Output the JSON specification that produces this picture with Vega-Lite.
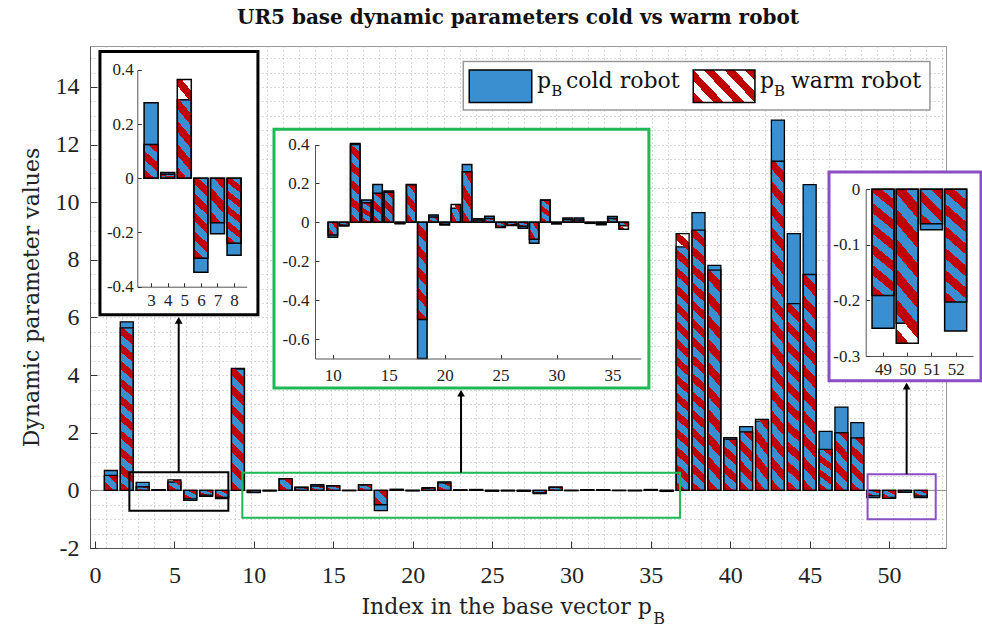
{
  "$schema": "https://vega.github.io/schema/vega-lite/v6.json",
  "width": 856,
  "height": 502,
  "autosize": {"type": "none"},
  "padding": {"left": 90, "top": 46, "right": 36, "bottom": 81},
  "background": "white",
  "title": {"text": "UR5 base dynamic parameters cold vs warm robot", "font": "DejaVu Serif", "fontSize": 20, "fontWeight": "bold", "color": "#111", "offset": 18},
  "config": {
    "view": {"stroke": "#999", "strokeWidth": 1},
    "axis": {"labelFont": "Liberation Serif", "labelColor": "#222", "tickColor": "#333", "domainColor": "#555", "titleFont": "DejaVu Serif", "titleFontWeight": "normal", "titleColor": "#222", "labelFlush": false, "labelExpr": "'' + datum.value", "labelOverlap": false}
  },
  "data": {"values": [
    {"idx":1,"cold":0.69,"warm":0.52},
    {"idx":2,"cold":5.85,"warm":5.64},
    {"idx":3,"cold":0.279,"warm":0.125},
    {"idx":4,"cold":0.021,"warm":0.015},
    {"idx":5,"cold":0.29,"warm":0.365},
    {"idx":6,"cold":-0.347,"warm":-0.295},
    {"idx":7,"cold":-0.205,"warm":-0.164},
    {"idx":8,"cold":-0.284,"warm":-0.24},
    {"idx":9,"cold":4.21,"warm":4.23},
    {"idx":10,"cold":-0.077,"warm":-0.065},
    {"idx":11,"cold":-0.019,"warm":-0.015},
    {"idx":12,"cold":0.4,"warm":0.405},
    {"idx":13,"cold":0.115,"warm":0.1},
    {"idx":14,"cold":0.195,"warm":0.149},
    {"idx":15,"cold":0.161,"warm":0.154},
    {"idx":16,"cold":-0.008,"warm":-0.005},
    {"idx":17,"cold":0.195,"warm":0.193},
    {"idx":18,"cold":-0.7,"warm":-0.5},
    {"idx":19,"cold":0.038,"warm":0.027},
    {"idx":20,"cold":-0.014,"warm":-0.01},
    {"idx":21,"cold":0.072,"warm":0.092},
    {"idx":22,"cold":0.297,"warm":0.26},
    {"idx":23,"cold":0.018,"warm":0.012},
    {"idx":24,"cold":0.031,"warm":0.02},
    {"idx":25,"cold":-0.022,"warm":-0.026},
    {"idx":26,"cold":-0.012,"warm":-0.016},
    {"idx":27,"cold":-0.03,"warm":-0.02},
    {"idx":28,"cold":-0.108,"warm":-0.087},
    {"idx":29,"cold":0.115,"warm":0.113},
    {"idx":30,"cold":-0.008,"warm":-0.007},
    {"idx":31,"cold":0.022,"warm":0.015},
    {"idx":32,"cold":0.022,"warm":0.012},
    {"idx":33,"cold":-0.005,"warm":-0.005},
    {"idx":34,"cold":-0.012,"warm":-0.008},
    {"idx":35,"cold":0.03,"warm":0.02},
    {"idx":36,"cold":-0.018,"warm":-0.036},
    {"idx":37,"cold":8.45,"warm":8.91},
    {"idx":38,"cold":9.64,"warm":9.03},
    {"idx":39,"cold":7.81,"warm":7.64},
    {"idx":40,"cold":1.83,"warm":1.78},
    {"idx":41,"cold":2.21,"warm":2.03},
    {"idx":42,"cold":2.4,"warm":2.46},
    {"idx":43,"cold":12.85,"warm":11.42},
    {"idx":44,"cold":8.91,"warm":6.48},
    {"idx":45,"cold":10.61,"warm":7.49},
    {"idx":46,"cold":2.05,"warm":1.42},
    {"idx":47,"cold":2.89,"warm":2.0},
    {"idx":48,"cold":2.35,"warm":1.82},
    {"idx":49,"cold":-0.25,"warm":-0.191},
    {"idx":50,"cold":-0.241,"warm":-0.277},
    {"idx":51,"cold":-0.073,"warm":-0.062},
    {"idx":52,"cold":-0.255,"warm":-0.203}
  ]},
  "transform": [{"fold": ["cold", "warm"], "as": ["series", "value"]}],
  "layer": [
    {
      "mark": {"type": "point", "opacity": 0},
      "encoding": {
        "x": {"field": "idx", "type": "quantitative", "scale": {"domain": [0, 53.27], "nice": false, "zero": false}, "axis": {"orient": "bottom", "grid": true, "gridDash": [1, 3], "gridColor": "#b5b5b5", "ticks": false, "labels": false, "domain": false, "title": null, "tickCount": 53}},
        "y": {"field": "value", "type": "quantitative", "scale": {"domain": [-2, 15.42], "nice": false, "zero": false}, "axis": {"orient": "left", "grid": true, "gridDash": [1, 3], "gridColor": "#b5b5b5", "ticks": false, "labels": false, "domain": false, "title": null, "tickCount": 35}}
      }
    },
    {"data": {"values": [{}]}, "mark": {"type": "rule", "color": "#8c8c8c", "strokeWidth": 1}, "encoding": {"x": {"datum": 0, "type": "quantitative", "scale": {"domain": [0, 53.27], "nice": false, "zero": false}, "axis": null}, "x2": {"datum": 53.27}, "y": {"datum": 0, "type": "quantitative", "scale": {"domain": [-2, 15.42], "nice": false, "zero": false}, "axis": null}}},
    {
      "encoding": {
        "x": {"field": "idx", "type": "quantitative", "scale": {"domain": [0, 53.27], "nice": false, "zero": false}, "axis": {"orient": "bottom", "values": [0,5,10,15,20,25,30,35,40,45,50], "title": null, "grid": false, "tickSize": -7, "labelPadding": 22, "labelFontSize": 24}},
        "y": {"field": "value", "type": "quantitative", "stack": null, "scale": {"domain": [-2, 15.42], "nice": false, "zero": false}, "axis": {"orient": "left", "values": [-2,0,2,4,6,8,10,12,14], "title": "Dynamic parameter values", "titleFontSize": 22, "titlePadding": 12, "grid": false, "tickSize": -7, "labelPadding": 18, "labelFontSize": 24}}
      },
      "layer": [
        {"transform": [{"filter": "datum.series == 'cold'"}], "mark": {"type": "bar", "orient": "vertical", "size": 13, "fill": "#3a8fd0", "stroke": "#000", "strokeWidth": 1.3}},
        {"transform": [{"filter": "datum.series == 'warm' && abs(datum.value) >= 8.5"}], "mark": {"type": "bar", "orient": "vertical", "size": 13, "stroke": "#000", "strokeWidth": 1.3, "fill": {"gradient": "linear", "x1": 0, "y1": 1, "x2": 0.048, "y2": -0.044, "stops": [
          {"offset":0,"color":"#c00000"},{"offset":0.0333,"color":"#c00000"},{"offset":0.0333,"color":"rgba(255,255,255,0)"},{"offset":0.0667,"color":"rgba(255,255,255,0)"},{"offset":0.0667,"color":"#c00000"},{"offset":0.1,"color":"#c00000"},{"offset":0.1,"color":"rgba(255,255,255,0)"},{"offset":0.1333,"color":"rgba(255,255,255,0)"},{"offset":0.1333,"color":"#c00000"},{"offset":0.1667,"color":"#c00000"},{"offset":0.1667,"color":"rgba(255,255,255,0)"},{"offset":0.2,"color":"rgba(255,255,255,0)"},{"offset":0.2,"color":"#c00000"},{"offset":0.2333,"color":"#c00000"},{"offset":0.2333,"color":"rgba(255,255,255,0)"},{"offset":0.2667,"color":"rgba(255,255,255,0)"},{"offset":0.2667,"color":"#c00000"},{"offset":0.3,"color":"#c00000"},{"offset":0.3,"color":"rgba(255,255,255,0)"},{"offset":0.3333,"color":"rgba(255,255,255,0)"},{"offset":0.3333,"color":"#c00000"},{"offset":0.3667,"color":"#c00000"},{"offset":0.3667,"color":"rgba(255,255,255,0)"},{"offset":0.4,"color":"rgba(255,255,255,0)"},{"offset":0.4,"color":"#c00000"},{"offset":0.4333,"color":"#c00000"},{"offset":0.4333,"color":"rgba(255,255,255,0)"},{"offset":0.4667,"color":"rgba(255,255,255,0)"},{"offset":0.4667,"color":"#c00000"},{"offset":0.5,"color":"#c00000"},{"offset":0.5,"color":"rgba(255,255,255,0)"},{"offset":0.5333,"color":"rgba(255,255,255,0)"},{"offset":0.5333,"color":"#c00000"},{"offset":0.5667,"color":"#c00000"},{"offset":0.5667,"color":"rgba(255,255,255,0)"},{"offset":0.6,"color":"rgba(255,255,255,0)"},{"offset":0.6,"color":"#c00000"},{"offset":0.6333,"color":"#c00000"},{"offset":0.6333,"color":"rgba(255,255,255,0)"},{"offset":0.6667,"color":"rgba(255,255,255,0)"},{"offset":0.6667,"color":"#c00000"},{"offset":0.7,"color":"#c00000"},{"offset":0.7,"color":"rgba(255,255,255,0)"},{"offset":0.7333,"color":"rgba(255,255,255,0)"},{"offset":0.7333,"color":"#c00000"},{"offset":0.7667,"color":"#c00000"},{"offset":0.7667,"color":"rgba(255,255,255,0)"},{"offset":0.8,"color":"rgba(255,255,255,0)"},{"offset":0.8,"color":"#c00000"},{"offset":0.8333,"color":"#c00000"},{"offset":0.8333,"color":"rgba(255,255,255,0)"},{"offset":0.8667,"color":"rgba(255,255,255,0)"},{"offset":0.8667,"color":"#c00000"},{"offset":0.9,"color":"#c00000"},{"offset":0.9,"color":"rgba(255,255,255,0)"},{"offset":0.9333,"color":"rgba(255,255,255,0)"},{"offset":0.9333,"color":"#c00000"},{"offset":0.9667,"color":"#c00000"},{"offset":0.9667,"color":"rgba(255,255,255,0)"},{"offset":1,"color":"rgba(255,255,255,0)"}]}}},
        {"transform": [{"filter": "datum.series == 'warm' && abs(datum.value) >= 5 && abs(datum.value) < 8.5"}], "mark": {"type": "bar", "orient": "vertical", "size": 13, "stroke": "#000", "strokeWidth": 1.3, "fill": {"gradient": "linear", "x1": 0, "y1": 1, "x2": 0.07, "y2": -0.061, "stops": [
          {"offset":0,"color":"#c00000"},{"offset":0.05,"color":"#c00000"},{"offset":0.05,"color":"rgba(255,255,255,0)"},{"offset":0.1,"color":"rgba(255,255,255,0)"},{"offset":0.1,"color":"#c00000"},{"offset":0.15,"color":"#c00000"},{"offset":0.15,"color":"rgba(255,255,255,0)"},{"offset":0.2,"color":"rgba(255,255,255,0)"},{"offset":0.2,"color":"#c00000"},{"offset":0.25,"color":"#c00000"},{"offset":0.25,"color":"rgba(255,255,255,0)"},{"offset":0.3,"color":"rgba(255,255,255,0)"},{"offset":0.3,"color":"#c00000"},{"offset":0.35,"color":"#c00000"},{"offset":0.35,"color":"rgba(255,255,255,0)"},{"offset":0.4,"color":"rgba(255,255,255,0)"},{"offset":0.4,"color":"#c00000"},{"offset":0.45,"color":"#c00000"},{"offset":0.45,"color":"rgba(255,255,255,0)"},{"offset":0.5,"color":"rgba(255,255,255,0)"},{"offset":0.5,"color":"#c00000"},{"offset":0.55,"color":"#c00000"},{"offset":0.55,"color":"rgba(255,255,255,0)"},{"offset":0.6,"color":"rgba(255,255,255,0)"},{"offset":0.6,"color":"#c00000"},{"offset":0.65,"color":"#c00000"},{"offset":0.65,"color":"rgba(255,255,255,0)"},{"offset":0.7,"color":"rgba(255,255,255,0)"},{"offset":0.7,"color":"#c00000"},{"offset":0.75,"color":"#c00000"},{"offset":0.75,"color":"rgba(255,255,255,0)"},{"offset":0.8,"color":"rgba(255,255,255,0)"},{"offset":0.8,"color":"#c00000"},{"offset":0.85,"color":"#c00000"},{"offset":0.85,"color":"rgba(255,255,255,0)"},{"offset":0.9,"color":"rgba(255,255,255,0)"},{"offset":0.9,"color":"#c00000"},{"offset":0.95,"color":"#c00000"},{"offset":0.95,"color":"rgba(255,255,255,0)"},{"offset":1,"color":"rgba(255,255,255,0)"}]}}},
        {"transform": [{"filter": "datum.series == 'warm' && abs(datum.value) >= 3 && abs(datum.value) < 5"}], "mark": {"type": "bar", "orient": "vertical", "size": 13, "stroke": "#000", "strokeWidth": 1.3, "fill": {"gradient": "linear", "x1": 0, "y1": 1, "x2": 0.117, "y2": -0.095, "stops": [
          {"offset":0,"color":"#c00000"},{"offset":0.0714,"color":"#c00000"},{"offset":0.0714,"color":"rgba(255,255,255,0)"},{"offset":0.1429,"color":"rgba(255,255,255,0)"},{"offset":0.1429,"color":"#c00000"},{"offset":0.2143,"color":"#c00000"},{"offset":0.2143,"color":"rgba(255,255,255,0)"},{"offset":0.2857,"color":"rgba(255,255,255,0)"},{"offset":0.2857,"color":"#c00000"},{"offset":0.3571,"color":"#c00000"},{"offset":0.3571,"color":"rgba(255,255,255,0)"},{"offset":0.4286,"color":"rgba(255,255,255,0)"},{"offset":0.4286,"color":"#c00000"},{"offset":0.5,"color":"#c00000"},{"offset":0.5,"color":"rgba(255,255,255,0)"},{"offset":0.5714,"color":"rgba(255,255,255,0)"},{"offset":0.5714,"color":"#c00000"},{"offset":0.6429,"color":"#c00000"},{"offset":0.6429,"color":"rgba(255,255,255,0)"},{"offset":0.7143,"color":"rgba(255,255,255,0)"},{"offset":0.7143,"color":"#c00000"},{"offset":0.7857,"color":"#c00000"},{"offset":0.7857,"color":"rgba(255,255,255,0)"},{"offset":0.8571,"color":"rgba(255,255,255,0)"},{"offset":0.8571,"color":"#c00000"},{"offset":0.9286,"color":"#c00000"},{"offset":0.9286,"color":"rgba(255,255,255,0)"},{"offset":1,"color":"rgba(255,255,255,0)"}]}}},
        {"transform": [{"filter": "datum.series == 'warm' && abs(datum.value) >= 1 && abs(datum.value) < 3"}], "mark": {"type": "bar", "orient": "vertical", "size": 13, "stroke": "#000", "strokeWidth": 1.3, "fill": {"gradient": "linear", "x1": 0, "y1": 1, "x2": 0.276, "y2": -0.171, "stops": [
          {"offset":0,"color":"#c00000"},{"offset":0.1429,"color":"#c00000"},{"offset":0.1429,"color":"rgba(255,255,255,0)"},{"offset":0.2857,"color":"rgba(255,255,255,0)"},{"offset":0.2857,"color":"#c00000"},{"offset":0.4286,"color":"#c00000"},{"offset":0.4286,"color":"rgba(255,255,255,0)"},{"offset":0.5714,"color":"rgba(255,255,255,0)"},{"offset":0.5714,"color":"#c00000"},{"offset":0.7143,"color":"#c00000"},{"offset":0.7143,"color":"rgba(255,255,255,0)"},{"offset":0.8571,"color":"rgba(255,255,255,0)"},{"offset":0.8571,"color":"#c00000"},{"offset":1,"color":"#c00000"}]}}},
        {"transform": [{"filter": "datum.series == 'warm' && abs(datum.value) < 1"}], "mark": {"type": "bar", "orient": "vertical", "size": 13, "stroke": "#000", "strokeWidth": 1.3, "fill": {"gradient": "linear", "x1": 0, "y1": 1, "x2": 0.926, "y2": -0.064, "stops": [
          {"offset":0,"color":"#c00000"},{"offset":0.3333,"color":"#c00000"},{"offset":0.3333,"color":"rgba(255,255,255,0)"},{"offset":0.6667,"color":"rgba(255,255,255,0)"},{"offset":0.6667,"color":"#c00000"},{"offset":1,"color":"#c00000"}]}}}
      ]
    },
    {"data": {"values": [{}]}, "mark": {"type": "rect", "fill": "white", "stroke": "#000", "strokeWidth": 3}, "encoding": {"x": {"datum": 0.62, "type": "quantitative", "scale": {"domain": [0, 53.27], "nice": false, "zero": false}, "axis": null}, "x2": {"datum": 10.45}, "y": {"datum": 15.23, "type": "quantitative", "scale": {"domain": [-2, 15.42], "nice": false, "zero": false}, "axis": null}, "y2": {"datum": 6.09}}},
    {"data": {"values": [{}]}, "mark": {"type": "rect", "fill": "white", "stroke": "#1db954", "strokeWidth": 3}, "encoding": {"x": {"datum": 11.45, "type": "quantitative", "scale": {"domain": [0, 53.27], "nice": false, "zero": false}, "axis": null}, "x2": {"datum": 34.78}, "y": {"datum": 12.53, "type": "quantitative", "scale": {"domain": [-2, 15.42], "nice": false, "zero": false}, "axis": null}, "y2": {"datum": 3.55}}},
    {"data": {"values": [{}]}, "mark": {"type": "rect", "fill": "white", "stroke": "#8a4fc4", "strokeWidth": 3}, "encoding": {"x": {"datum": 45.99, "type": "quantitative", "scale": {"domain": [0, 53.27], "nice": false, "zero": false}, "axis": null}, "x2": {"datum": 55.45}, "y": {"datum": 11.05, "type": "quantitative", "scale": {"domain": [-2, 15.42], "nice": false, "zero": false}, "axis": null}, "y2": {"datum": 3.8}}},
    {"data": {"values": [{}]}, "mark": {"type": "rect", "fill": "transparent", "stroke": "#000", "strokeWidth": 2}, "encoding": {"x": {"datum": 2.45, "type": "quantitative", "scale": {"domain": [0, 53.27], "nice": false, "zero": false}, "axis": null}, "x2": {"datum": 8.61}, "y": {"datum": 0.628, "type": "quantitative", "scale": {"domain": [-2, 15.42], "nice": false, "zero": false}, "axis": null}, "y2": {"datum": -0.705}}},
    {"data": {"values": [{}]}, "mark": {"type": "rect", "fill": "transparent", "stroke": "#1db954", "strokeWidth": 2}, "encoding": {"x": {"datum": 9.48, "type": "quantitative", "scale": {"domain": [0, 53.27], "nice": false, "zero": false}, "axis": null}, "x2": {"datum": 36.72}, "y": {"datum": 0.614, "type": "quantitative", "scale": {"domain": [-2, 15.42], "nice": false, "zero": false}, "axis": null}, "y2": {"datum": -0.948}}},
    {"data": {"values": [{}]}, "mark": {"type": "rect", "fill": "transparent", "stroke": "#8a4fc4", "strokeWidth": 2}, "encoding": {"x": {"datum": 48.39, "type": "quantitative", "scale": {"domain": [0, 53.27], "nice": false, "zero": false}, "axis": null}, "x2": {"datum": 52.63}, "y": {"datum": 0.558, "type": "quantitative", "scale": {"domain": [-2, 15.42], "nice": false, "zero": false}, "axis": null}, "y2": {"datum": -1.004}}},
    {"data": {"values": [{}]}, "mark": {"type": "rule", "color": "#000", "strokeWidth": 2}, "encoding": {"x": {"datum": 5.52, "type": "quantitative", "scale": {"domain": [0, 53.27], "nice": false, "zero": false}, "axis": null}, "y": {"datum": 0.628, "type": "quantitative", "scale": {"domain": [-2, 15.42], "nice": false, "zero": false}, "axis": null}, "y2": {"datum": 5.95}}},
    {"data": {"values": [{}]}, "mark": {"type": "rule", "color": "#000", "strokeWidth": 2}, "encoding": {"x": {"datum": 23.09, "type": "quantitative", "scale": {"domain": [0, 53.27], "nice": false, "zero": false}, "axis": null}, "y": {"datum": 0.614, "type": "quantitative", "scale": {"domain": [-2, 15.42], "nice": false, "zero": false}, "axis": null}, "y2": {"datum": 3.42}}},
    {"data": {"values": [{}]}, "mark": {"type": "rule", "color": "#000", "strokeWidth": 2}, "encoding": {"x": {"datum": 50.82, "type": "quantitative", "scale": {"domain": [0, 53.27], "nice": false, "zero": false}, "axis": null}, "y": {"datum": 0.558, "type": "quantitative", "scale": {"domain": [-2, 15.42], "nice": false, "zero": false}, "axis": null}, "y2": {"datum": 3.67}}},
    {"data": {"values": [{}]}, "mark": {"type": "point", "shape": "triangle-up", "filled": true, "color": "#000", "size": 60, "opacity": 1}, "encoding": {"x": {"datum": 5.52, "type": "quantitative", "scale": {"domain": [0, 53.27], "nice": false, "zero": false}, "axis": null}, "y": {"datum": 5.9, "type": "quantitative", "scale": {"domain": [-2, 15.42], "nice": false, "zero": false}, "axis": null}}},
    {"data": {"values": [{}]}, "mark": {"type": "point", "shape": "triangle-up", "filled": true, "color": "#000", "size": 60, "opacity": 1}, "encoding": {"x": {"datum": 23.09, "type": "quantitative", "scale": {"domain": [0, 53.27], "nice": false, "zero": false}, "axis": null}, "y": {"datum": 3.37, "type": "quantitative", "scale": {"domain": [-2, 15.42], "nice": false, "zero": false}, "axis": null}}},
    {"data": {"values": [{}]}, "mark": {"type": "point", "shape": "triangle-up", "filled": true, "color": "#000", "size": 60, "opacity": 1}, "encoding": {"x": {"datum": 50.82, "type": "quantitative", "scale": {"domain": [0, 53.27], "nice": false, "zero": false}, "axis": null}, "y": {"datum": 3.62, "type": "quantitative", "scale": {"domain": [-2, 15.42], "nice": false, "zero": false}, "axis": null}}},
    {"data": {"values": [{}]}, "mark": {"type": "rect", "fill": "white", "stroke": "#999", "strokeWidth": 1.5}, "encoding": {"x": {"datum": 23.23, "type": "quantitative", "scale": {"domain": [0, 53.27], "nice": false, "zero": false}, "axis": null}, "x2": {"datum": 52.27}, "y": {"datum": 14.88, "type": "quantitative", "scale": {"domain": [-2, 15.42], "nice": false, "zero": false}, "axis": null}, "y2": {"datum": 13.2}}},
    {"data": {"values": [{}]}, "mark": {"type": "rect", "fill": "#3a8fd0", "stroke": "#000", "strokeWidth": 1.5}, "encoding": {"x": {"datum": 23.6, "type": "quantitative", "scale": {"domain": [0, 53.27], "nice": false, "zero": false}, "axis": null}, "x2": {"datum": 27.49}, "y": {"datum": 14.59, "type": "quantitative", "scale": {"domain": [-2, 15.42], "nice": false, "zero": false}, "axis": null}, "y2": {"datum": 13.46}}},
    {"data": {"values": [{}]}, "mark": {"type": "rect", "stroke": "#000", "strokeWidth": 1.5, "fill": {"gradient": "linear", "x1": 0, "y1": 1, "x2": 1.2, "y2": 0.4, "stops": [
      {"offset":0,"color":"#c00000"},{"offset":0.1111,"color":"#c00000"},{"offset":0.1111,"color":"rgba(255,255,255,0)"},{"offset":0.2222,"color":"rgba(255,255,255,0)"},{"offset":0.2222,"color":"#c00000"},{"offset":0.3333,"color":"#c00000"},{"offset":0.3333,"color":"rgba(255,255,255,0)"},{"offset":0.4444,"color":"rgba(255,255,255,0)"},{"offset":0.4444,"color":"#c00000"},{"offset":0.5556,"color":"#c00000"},{"offset":0.5556,"color":"rgba(255,255,255,0)"},{"offset":0.6667,"color":"rgba(255,255,255,0)"},{"offset":0.6667,"color":"#c00000"},{"offset":0.7778,"color":"#c00000"},{"offset":0.7778,"color":"rgba(255,255,255,0)"},{"offset":0.8889,"color":"rgba(255,255,255,0)"},{"offset":0.8889,"color":"#c00000"},{"offset":1,"color":"#c00000"}]}}, "encoding": {"x": {"datum": 37.54, "type": "quantitative", "scale": {"domain": [0, 53.27], "nice": false, "zero": false}, "axis": null}, "x2": {"datum": 41.38}, "y": {"datum": 14.59, "type": "quantitative", "scale": {"domain": [-2, 15.42], "nice": false, "zero": false}, "axis": null}, "y2": {"datum": 13.46}}},
    {"data": {"values": [{}]}, "mark": {"type": "text", "text": "p", "font": "DejaVu Serif", "fontSize": 22, "align": "left", "baseline": "alphabetic", "color": "#111"}, "encoding": {"x": {"datum": 27.82, "type": "quantitative", "scale": {"domain": [0, 53.27], "nice": false, "zero": false}, "axis": null}, "y": {"datum": 13.956, "type": "quantitative", "scale": {"domain": [-2, 15.42], "nice": false, "zero": false}, "axis": null}}},
    {"data": {"values": [{}]}, "mark": {"type": "text", "text": "B", "font": "DejaVu Serif", "fontSize": 15, "align": "left", "baseline": "alphabetic", "color": "#111"}, "encoding": {"x": {"datum": 28.7, "type": "quantitative", "scale": {"domain": [0, 53.27], "nice": false, "zero": false}, "axis": null}, "y": {"datum": 13.69, "type": "quantitative", "scale": {"domain": [-2, 15.42], "nice": false, "zero": false}, "axis": null}}},
    {"data": {"values": [{}]}, "mark": {"type": "text", "text": "cold robot", "font": "DejaVu Serif", "fontSize": 22, "align": "left", "baseline": "alphabetic", "color": "#111"}, "encoding": {"x": {"datum": 29.62, "type": "quantitative", "scale": {"domain": [0, 53.27], "nice": false, "zero": false}, "axis": null}, "y": {"datum": 13.956, "type": "quantitative", "scale": {"domain": [-2, 15.42], "nice": false, "zero": false}, "axis": null}}},
    {"data": {"values": [{}]}, "mark": {"type": "text", "text": "p", "font": "DejaVu Serif", "fontSize": 22, "align": "left", "baseline": "alphabetic", "color": "#111"}, "encoding": {"x": {"datum": 41.69, "type": "quantitative", "scale": {"domain": [0, 53.27], "nice": false, "zero": false}, "axis": null}, "y": {"datum": 13.956, "type": "quantitative", "scale": {"domain": [-2, 15.42], "nice": false, "zero": false}, "axis": null}}},
    {"data": {"values": [{}]}, "mark": {"type": "text", "text": "B", "font": "DejaVu Serif", "fontSize": 15, "align": "left", "baseline": "alphabetic", "color": "#111"}, "encoding": {"x": {"datum": 42.57, "type": "quantitative", "scale": {"domain": [0, 53.27], "nice": false, "zero": false}, "axis": null}, "y": {"datum": 13.69, "type": "quantitative", "scale": {"domain": [-2, 15.42], "nice": false, "zero": false}, "axis": null}}},
    {"data": {"values": [{}]}, "mark": {"type": "text", "text": "warm robot", "font": "DejaVu Serif", "fontSize": 22, "align": "left", "baseline": "alphabetic", "color": "#111"}, "encoding": {"x": {"datum": 43.62, "type": "quantitative", "scale": {"domain": [0, 53.27], "nice": false, "zero": false}, "axis": null}, "y": {"datum": 13.956, "type": "quantitative", "scale": {"domain": [-2, 15.42], "nice": false, "zero": false}, "axis": null}}},
    {"data": {"values": [{}]}, "mark": {"type": "text", "text": "Index in the base vector p", "font": "DejaVu Serif", "fontSize": 22, "align": "right", "baseline": "alphabetic", "color": "#222"}, "encoding": {"x": {"datum": 34.97, "type": "quantitative", "scale": {"domain": [0, 53.27], "nice": false, "zero": false}, "axis": null}, "y": {"datum": -4.29, "type": "quantitative", "scale": {"domain": [-2, 15.42], "nice": false, "zero": false}, "axis": null}}},
    {"data": {"values": [{}]}, "mark": {"type": "text", "text": "B", "font": "DejaVu Serif", "fontSize": 16, "align": "left", "baseline": "alphabetic", "color": "#222"}, "encoding": {"x": {"datum": 35.05, "type": "quantitative", "scale": {"domain": [0, 53.27], "nice": false, "zero": false}, "axis": null}, "y": {"datum": -4.62, "type": "quantitative", "scale": {"domain": [-2, 15.42], "nice": false, "zero": false}, "axis": null}}},
    {
      "transform": [{"filter": "datum.idx >= 3 && datum.idx <= 8"}],
      "encoding": {
        "x": {"field": "idx", "type": "quantitative", "scale": {"domain": [2.47, 8.46], "range": [47.3, 156.7], "nice": false, "zero": false}, "axis": {"orient": "bottom", "offset": -261.3, "values": [3,4,5,6,7,8], "title": null, "grid": false, "zindex": 1, "tickSize": -4, "labelPadding": 10, "labelFontSize": 17}},
        "y": {"field": "value", "type": "quantitative", "stack": null, "scale": {"domain": [-0.4, 0.4], "range": [240.7, 23.9], "nice": false, "zero": false}, "axis": {"orient": "left", "offset": -47.3, "values": [-0.4,-0.2,0,0.2,0.4], "title": null, "grid": false, "zindex": 1, "tickSize": -4, "labelPadding": 8, "labelFontSize": 17}}
      },
      "layer": [
        {"data": {"values": [{}]}, "mark": {"type": "rect", "fill": "transparent", "stroke": "#999", "strokeWidth": 1}, "encoding": {"x": {"datum": 2.47}, "x2": {"datum": 8.46}, "y": {"datum": -0.4}, "y2": {"datum": 0.4}}},
        {"data": {"values": [{}]}, "mark": {"type": "rule", "color": "#8c8c8c", "strokeWidth": 1}, "encoding": {"x": {"datum": 2.47}, "x2": {"datum": 8.46}, "y": {"datum": 0}}},
        {"transform": [{"filter": "datum.series == 'cold'"}], "mark": {"type": "bar", "orient": "vertical", "size": 14, "fill": "#3a8fd0", "stroke": "#000", "strokeWidth": 1.5}},
        {"transform": [{"filter": "datum.series == 'warm' && abs(datum.value) >= 0.2"}], "mark": {"type": "bar", "orient": "vertical", "size": 14, "stroke": "#000", "strokeWidth": 1.5, "fill": {"gradient": "linear", "x1": 0, "y1": 1, "x2": 0.193, "y2": -0.137, "stops": [
          {"offset":0,"color":"#c00000"},{"offset":0.1,"color":"#c00000"},{"offset":0.1,"color":"rgba(255,255,255,0)"},{"offset":0.2,"color":"rgba(255,255,255,0)"},{"offset":0.2,"color":"#c00000"},{"offset":0.3,"color":"#c00000"},{"offset":0.3,"color":"rgba(255,255,255,0)"},{"offset":0.4,"color":"rgba(255,255,255,0)"},{"offset":0.4,"color":"#c00000"},{"offset":0.5,"color":"#c00000"},{"offset":0.5,"color":"rgba(255,255,255,0)"},{"offset":0.6,"color":"rgba(255,255,255,0)"},{"offset":0.6,"color":"#c00000"},{"offset":0.7,"color":"#c00000"},{"offset":0.7,"color":"rgba(255,255,255,0)"},{"offset":0.8,"color":"rgba(255,255,255,0)"},{"offset":0.8,"color":"#c00000"},{"offset":0.9,"color":"#c00000"},{"offset":0.9,"color":"rgba(255,255,255,0)"},{"offset":1,"color":"rgba(255,255,255,0)"}]}}},
        {"transform": [{"filter": "datum.series == 'warm' && abs(datum.value) < 0.2"}], "mark": {"type": "bar", "orient": "vertical", "size": 14, "stroke": "#000", "strokeWidth": 1.5, "fill": {"gradient": "linear", "x1": 0, "y1": 1, "x2": 0.433, "y2": -0.204, "stops": [
          {"offset":0,"color":"#c00000"},{"offset":0.2,"color":"#c00000"},{"offset":0.2,"color":"rgba(255,255,255,0)"},{"offset":0.4,"color":"rgba(255,255,255,0)"},{"offset":0.4,"color":"#c00000"},{"offset":0.6,"color":"#c00000"},{"offset":0.6,"color":"rgba(255,255,255,0)"},{"offset":0.8,"color":"rgba(255,255,255,0)"},{"offset":0.8,"color":"#c00000"},{"offset":1,"color":"#c00000"}]}}}
      ]
    },
    {
      "transform": [{"filter": "datum.idx >= 10 && datum.idx <= 36"}],
      "encoding": {
        "x": {"field": "idx", "type": "quantitative", "scale": {"domain": [8.85, 37.08], "range": [225, 550.7], "nice": false, "zero": false}, "axis": {"orient": "bottom", "offset": -189.5, "values": [10,15,20,25,30,35], "title": null, "grid": false, "zindex": 1, "tickSize": -4, "labelPadding": 13, "labelFontSize": 17}},
        "y": {"field": "value", "type": "quantitative", "stack": null, "scale": {"domain": [-0.7, 0.4], "range": [312.5, 98.5], "nice": false, "zero": false}, "axis": {"orient": "left", "offset": -225, "values": [-0.6,-0.4,-0.2,0,0.2,0.4], "title": null, "grid": false, "zindex": 1, "tickSize": -4, "labelPadding": 10, "labelFontSize": 17}}
      },
      "layer": [
        {"data": {"values": [{}]}, "mark": {"type": "rect", "fill": "transparent", "stroke": "#999", "strokeWidth": 1}, "encoding": {"x": {"datum": 8.85}, "x2": {"datum": 37.08}, "y": {"datum": -0.7}, "y2": {"datum": 0.4}}},
        {"data": {"values": [{}]}, "mark": {"type": "rule", "color": "#8c8c8c", "strokeWidth": 1}, "encoding": {"x": {"datum": 8.85}, "x2": {"datum": 37.08}, "y": {"datum": 0}}},
        {"transform": [{"filter": "datum.series == 'cold'"}], "mark": {"type": "bar", "orient": "vertical", "size": 9.5, "fill": "#3a8fd0", "stroke": "#000", "strokeWidth": 1.5}},
        {"transform": [{"filter": "datum.series == 'warm' && abs(datum.value) >= 0.3"}], "mark": {"type": "bar", "orient": "vertical", "size": 9.5, "stroke": "#000", "strokeWidth": 1.5, "fill": {"gradient": "linear", "x1": 0, "y1": 1, "x2": 0.115, "y2": -0.093, "stops": [
          {"offset":0,"color":"#c00000"},{"offset":0.1,"color":"#c00000"},{"offset":0.1,"color":"rgba(255,255,255,0)"},{"offset":0.2,"color":"rgba(255,255,255,0)"},{"offset":0.2,"color":"#c00000"},{"offset":0.3,"color":"#c00000"},{"offset":0.3,"color":"rgba(255,255,255,0)"},{"offset":0.4,"color":"rgba(255,255,255,0)"},{"offset":0.4,"color":"#c00000"},{"offset":0.5,"color":"#c00000"},{"offset":0.5,"color":"rgba(255,255,255,0)"},{"offset":0.6,"color":"rgba(255,255,255,0)"},{"offset":0.6,"color":"#c00000"},{"offset":0.7,"color":"#c00000"},{"offset":0.7,"color":"rgba(255,255,255,0)"},{"offset":0.8,"color":"rgba(255,255,255,0)"},{"offset":0.8,"color":"#c00000"},{"offset":0.9,"color":"#c00000"},{"offset":0.9,"color":"rgba(255,255,255,0)"},{"offset":1,"color":"rgba(255,255,255,0)"}]}}},
        {"transform": [{"filter": "datum.series == 'warm' && abs(datum.value) >= 0.1 && abs(datum.value) < 0.3"}], "mark": {"type": "bar", "orient": "vertical", "size": 9.5, "stroke": "#000", "strokeWidth": 1.5, "fill": {"gradient": "linear", "x1": 0, "y1": 1, "x2": 0.358, "y2": -0.193, "stops": [
          {"offset":0,"color":"#c00000"},{"offset":0.2,"color":"#c00000"},{"offset":0.2,"color":"rgba(255,255,255,0)"},{"offset":0.4,"color":"rgba(255,255,255,0)"},{"offset":0.4,"color":"#c00000"},{"offset":0.6,"color":"#c00000"},{"offset":0.6,"color":"rgba(255,255,255,0)"},{"offset":0.8,"color":"rgba(255,255,255,0)"},{"offset":0.8,"color":"#c00000"},{"offset":1,"color":"#c00000"}]}}},
        {"transform": [{"filter": "datum.series == 'warm' && abs(datum.value) < 0.1"}], "mark": {"type": "bar", "orient": "vertical", "size": 9.5, "stroke": "#000", "strokeWidth": 1.5, "fill": {"gradient": "linear", "x1": 0, "y1": 1, "x2": 1, "y2": 0, "stops": [
          {"offset":0,"color":"#c00000"},{"offset":0.3333,"color":"#c00000"},{"offset":0.3333,"color":"rgba(255,255,255,0)"},{"offset":0.6667,"color":"rgba(255,255,255,0)"},{"offset":0.6667,"color":"#c00000"},{"offset":1,"color":"#c00000"}]}}}
      ]
    },
    {
      "transform": [{"filter": "datum.idx >= 49"}],
      "encoding": {
        "x": {"field": "idx", "type": "quantitative", "scale": {"domain": [48.49, 52.51], "range": [775.7, 883], "nice": false, "zero": false}, "axis": {"orient": "bottom", "offset": -192, "values": [49,50,51,52], "title": null, "grid": false, "zindex": 1, "tickSize": -4, "labelPadding": 9, "labelFontSize": 17}},
        "y": {"field": "value", "type": "quantitative", "stack": null, "scale": {"domain": [-0.3, 0], "range": [310, 143.3], "nice": false, "zero": false}, "axis": {"orient": "left", "offset": -775.7, "values": [-0.3,-0.2,-0.1,0], "title": null, "grid": false, "zindex": 1, "tickSize": -4, "labelPadding": 10, "labelFontSize": 17}}
      },
      "layer": [
        {"data": {"values": [{}]}, "mark": {"type": "rect", "fill": "transparent", "stroke": "#999", "strokeWidth": 1}, "encoding": {"x": {"datum": 48.49}, "x2": {"datum": 52.51}, "y": {"datum": -0.3}, "y2": {"datum": 0}}},
        {"transform": [{"filter": "datum.series == 'cold'"}], "mark": {"type": "bar", "orient": "vertical", "size": 22, "fill": "#3a8fd0", "stroke": "#000", "strokeWidth": 1.5}},
        {"transform": [{"filter": "datum.series == 'warm' && abs(datum.value) >= 0.1"}], "mark": {"type": "bar", "orient": "vertical", "size": 22, "stroke": "#000", "strokeWidth": 1.5, "fill": {"gradient": "linear", "x1": 0, "y1": 1, "x2": 0.193, "y2": -0.137, "stops": [
          {"offset":0,"color":"#c00000"},{"offset":0.0833,"color":"#c00000"},{"offset":0.0833,"color":"rgba(255,255,255,0)"},{"offset":0.1667,"color":"rgba(255,255,255,0)"},{"offset":0.1667,"color":"#c00000"},{"offset":0.25,"color":"#c00000"},{"offset":0.25,"color":"rgba(255,255,255,0)"},{"offset":0.3333,"color":"rgba(255,255,255,0)"},{"offset":0.3333,"color":"#c00000"},{"offset":0.4167,"color":"#c00000"},{"offset":0.4167,"color":"rgba(255,255,255,0)"},{"offset":0.5,"color":"rgba(255,255,255,0)"},{"offset":0.5,"color":"#c00000"},{"offset":0.5833,"color":"#c00000"},{"offset":0.5833,"color":"rgba(255,255,255,0)"},{"offset":0.6667,"color":"rgba(255,255,255,0)"},{"offset":0.6667,"color":"#c00000"},{"offset":0.75,"color":"#c00000"},{"offset":0.75,"color":"rgba(255,255,255,0)"},{"offset":0.8333,"color":"rgba(255,255,255,0)"},{"offset":0.8333,"color":"#c00000"},{"offset":0.9167,"color":"#c00000"},{"offset":0.9167,"color":"rgba(255,255,255,0)"},{"offset":1,"color":"rgba(255,255,255,0)"}]}}},
        {"transform": [{"filter": "datum.series == 'warm' && abs(datum.value) < 0.1"}], "mark": {"type": "bar", "orient": "vertical", "size": 22, "stroke": "#000", "strokeWidth": 1.5, "fill": {"gradient": "linear", "x1": 0, "y1": 1, "x2": 0.735, "y2": -0.167, "stops": [
          {"offset":0,"color":"#c00000"},{"offset":0.2,"color":"#c00000"},{"offset":0.2,"color":"rgba(255,255,255,0)"},{"offset":0.4,"color":"rgba(255,255,255,0)"},{"offset":0.4,"color":"#c00000"},{"offset":0.6,"color":"#c00000"},{"offset":0.6,"color":"rgba(255,255,255,0)"},{"offset":0.8,"color":"rgba(255,255,255,0)"},{"offset":0.8,"color":"#c00000"},{"offset":1,"color":"#c00000"}]}}}
      ]
    }
  ],
  "resolve": {"scale": {"x": "independent", "y": "independent"}, "axis": {"x": "independent", "y": "independent"}}
}
